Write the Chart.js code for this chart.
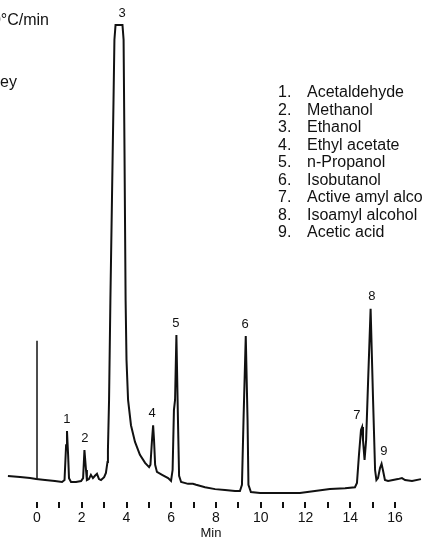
<!DOCTYPE html>
<html>
<head>
<meta charset="utf-8">
<script src="https://cdn.jsdelivr.net/npm/chart.js@4.4.1/dist/chart.umd.min.js"></script>
<style>
  html, body { margin: 0; padding: 0; background: #fff; }
  #wrap { position: relative; width: 422px; height: 541px; overflow: hidden; }
  #chart { position: absolute; left: 0; top: 0; }
  .note { position: absolute; font: 16px "Liberation Sans", Arial, sans-serif; line-height: 18px;
          color: #111; white-space: nowrap; }
  #key { position: absolute; left: 278px; top: 83px; font: 16px "Liberation Sans", Arial, sans-serif;
         line-height: 17.5px; color: #111; white-space: nowrap; }
  #key .n { display: inline-block; width: 29px; }
</style>
</head>
<body>
<div id="wrap">
  <canvas id="chart" width="422" height="541"></canvas>
  <div class="note" style="right:373px; top:11px;">10°C/min</div>
  <div class="note" style="right:405px; top:73px;">Whiskey</div>
  <div id="key"></div>
</div>
<script>
// retention time (min) and detector response
const times = [
  -1.30, -0.76, -0.31, -0.04, 0.36, 0.80, 1.12, 1.23, 1.30, 1.34, 1.39, 1.43, 1.52, 1.74, 1.97,
  2.06, 2.12, 2.19, 2.23, 2.32, 2.41, 2.50, 2.59, 2.68, 2.77, 2.86, 3.00, 3.08, 3.15,
  3.17, 3.22, 3.28, 3.35, 3.42, 3.46, 3.51, 3.82, 3.87, 3.91, 3.96, 4.00, 4.07, 4.20, 4.38,
  4.60, 4.83, 5.01, 5.07, 5.14, 5.19, 5.23, 5.28, 5.36, 5.59, 5.86, 5.99, 6.06, 6.12, 6.17,
  6.23, 6.30, 6.35, 6.44, 6.75, 6.97, 7.11, 7.51, 7.96, 8.40, 8.85, 9.07, 9.16, 9.23,
  9.33, 9.41, 9.45, 9.56, 9.97, 10.86, 11.75, 12.42, 13.09, 13.77, 14.21, 14.30, 14.39,
  14.48, 14.53, 14.57, 14.64, 14.71, 14.80, 14.91, 15.02, 15.11, 15.17, 15.24, 15.33,
  15.40, 15.46, 15.55, 15.69, 15.91, 16.13, 16.31, 16.45, 16.76, 17.16
];
const response = [
  5.45, 5.24, 5.03, 4.82, 4.61, 4.40, 4.19, 4.6, 11.9, 14.9, 9.9, 5.0, 4.2, 4.2, 4.4,
  5.0, 10.9, 6.7, 4.6, 4.8, 5.7, 5.0, 5.5, 5.9, 4.8, 4.6, 5.2, 6.1, 8.4,
  10.9, 21.4, 42.3, 63.3, 84.3, 96.9, 100, 100, 96.9, 73.8, 42.3, 29.8, 21.4, 16.1, 12.6,
  9.9, 8.2, 7.3, 7.8, 13.0, 16.1, 13.0, 7.8, 6.3, 5.7, 5.0, 4.4, 6.7, 19.3, 21.4,
  35.0, 17.2, 5.5, 4.2, 3.8, 3.8, 3.6, 3.1, 2.7, 2.5, 2.3, 2.3, 3.6, 17.2,
  34.8, 17.2, 3.6, 2.1, 1.9, 1.9, 1.9, 2.3, 2.7, 2.9, 3.1, 4.0, 9.9,
  15.1, 15.7, 13.0, 8.8, 13.0, 25.6, 40.5, 21.4, 6.7, 4.6, 5.0, 7.1,
  8.0, 6.7, 4.6, 4.4, 4.6, 4.8, 5.0, 4.6, 4.4, 4.8
];

// injection mark at t = 0
const injTimes = [0, 0];
const injResponse = [4.8, 33.8];

// peak numbers and where their labels sit
const peakNums = ['1', '2', '3', '4', '5', '6', '7', '8', '9'];
const labelTimes = [1.34, 2.14, 3.80, 5.14, 6.21, 9.30, 14.30, 14.97, 15.50];
const labelTops = [14.9, 10.9, 100, 16.1, 35.0, 34.8, 15.7, 40.5, 8.0];

const compounds = ['Acetaldehyde', 'Methanol', 'Ethanol', 'Ethyl acetate', 'n-Propanol',
  'Isobutanol', 'Active amyl alcohol', 'Isoamyl alcohol', 'Acetic acid'];

const narrow = '"Liberation Sans Narrow", "Liberation Sans", Arial, sans-serif';

// compound key
const key = document.getElementById('key');
compounds.forEach((name, i) => {
  const row = document.createElement('div');
  row.innerHTML = '<span class="n">' + (i + 1) + '.</span>' + name;
  key.appendChild(row);
});

const peakLabels = {
  id: 'peakLabels',
  afterDatasetsDraw(chart) {
    const { ctx, scales } = chart;
    ctx.save();
    ctx.fillStyle = '#111';
    ctx.font = '13px ' + narrow;
    ctx.textAlign = 'center';
    ctx.textBaseline = 'middle';
    peakNums.forEach((n, i) => {
      const px = scales.x.getPixelForValue(labelTimes[i]);
      const py = scales.y.getPixelForValue(labelTops[i]) - 12;
      ctx.fillText(n, px, py);
    });
    ctx.restore();
  }
};

new Chart(document.getElementById('chart'), {
  type: 'line',
  data: {
    datasets: [{
      data: times.map((t, i) => ({ x: t, y: response[i] })),
      borderColor: '#111',
      borderWidth: 2,
      pointRadius: 0,
      tension: 0
    }, {
      data: injTimes.map((t, i) => ({ x: t, y: injResponse[i] })),
      borderColor: '#000',
      borderWidth: 1.4,
      pointRadius: 0
    }]
  },
  options: {
    responsive: false,
    animation: false,
    layout: { padding: 0 },
    plugins: { legend: { display: false }, tooltip: { enabled: false } },
    scales: {
      x: {
        type: 'linear',
        min: -1.654,
        max: 17.207,
        border: { display: false },
        grid: { drawOnChartArea: false, drawTicks: true, tickLength: 6, lineWidth: 2, color: '#111' },
        ticks: {
          stepSize: 1,
          autoSkip: false,
          maxRotation: 0,
          padding: 2,
          color: '#111',
          font: { family: narrow, size: 14 },
          callback: v => (v % 2 === 0 ? v : '')
        },
        afterBuildTicks: axis => {
          axis.ticks = axis.ticks.filter(t => t.value >= 0 && t.value <= 16 && Number.isInteger(t.value));
        },
        afterFit: axis => { axis.height = 39; },
        title: { display: true, text: 'Min', color: '#111', padding: 0, font: { family: narrow, size: 13 } }
      },
      y: { display: false, min: 0, max: 105.24 }
    }
  },
  plugins: [peakLabels]
});
</script>
</body>
</html>
